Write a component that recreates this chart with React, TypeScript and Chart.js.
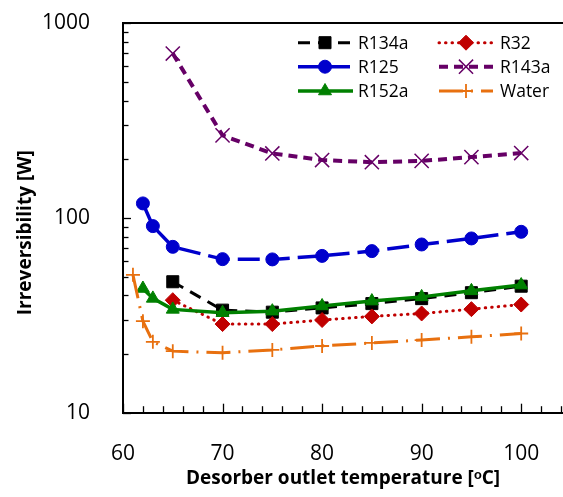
import React, { useEffect, useRef } from 'react';
import { Chart, registerables } from 'chart.js';
import { drawPoint } from 'chart.js/helpers';

Chart.register(...registerables);

// ---- data ----
const tWater = [61, 62, 63, 65, 70, 75, 80, 85, 90, 95, 100];
const water = [51, 29.5, 23.1, 20.7, 20.3, 21.0, 22.0, 22.8, 23.6, 24.5, 25.5];
const tR125 = [62, 63, 65, 70, 75, 80, 85, 90, 95, 100];
const r125 = [118.6, 90.7, 71.0, 61.4, 61.2, 63.8, 67.5, 73.0, 78.4, 84.8];
const tR152a = [62, 63, 65, 70, 75, 80, 85, 90, 95, 100];
const r152a = [43.4, 38.6, 33.9, 32.6, 33.2, 35.3, 37.4, 39.3, 42.2, 45.2];
const t65 = [65, 70, 75, 80, 85, 90, 95, 100];
const r134a = [47.0, 33.6, 32.8, 34.5, 36.3, 38.5, 41.3, 44.6];
const r32 = [37.8, 28.5, 28.5, 29.9, 31.2, 32.3, 34.0, 35.9];
const r143a = [697, 265, 214, 198, 193, 196, 205, 215];

const xTickValues = [60, 62, 64, 66, 68, 70, 72, 74, 76, 78, 80, 82, 84, 86, 88, 90, 92, 94, 96, 98, 100, 102, 104];
const yMajorTicks = [10, 100, 1000];
const yMinorTicks = [20, 30, 40, 50, 60, 70, 80, 90, 200, 300, 400, 500, 600, 700, 800, 900];

const xTitle = 'Desorber outlet temperature [\u1D52C]';
const yTitle = 'Irreversibility [W]      ';

const FONT = '"Open Sans", sans-serif';

export default function App() {
  const ref = useRef<HTMLCanvasElement>(null);

  useEffect(() => {
    document.body.style.margin = '0';
    const canvas = ref.current;
    if (!canvas) return;

    const pts = (xs: number[], ys: number[]) => xs.map((x, i) => ({ x, y: ys[i] }));

    const series = [
      { label: 'R134a', data: pts(t65, r134a), color: '#000000', dash: [12, 8], width: 3, style: 'rect', radius: 8.5, pbw: 1, cap: 'butt', order: 6, col: 0, row: 0 },
      { label: 'R125', data: pts(tR125, r125), color: '#0000CC', dash: [22, 8], width: 3.5, style: 'circle', radius: 6.5, pbw: 1, cap: 'butt', order: 4, col: 0, row: 1 },
      { label: 'R152a', data: pts(tR152a, r152a), color: '#008000', dash: [], width: 3.5, style: 'triangle', radius: 7.5, pbw: 1, cap: 'butt', order: 2, col: 0, row: 2 },
      { label: 'R32', data: pts(t65, r32), color: '#C00000', dash: [0.5, 6], width: 3, style: 'rectRot', radius: 7.5, pbw: 1, cap: 'round', order: 5, col: 1, row: 0 },
      { label: 'R143a', data: pts(t65, r143a), color: '#660066', dash: [9, 6], width: 4, style: 'crossRot', radius: 10, pbw: 1.5, cap: 'butt', order: 3, col: 1, row: 1 },
      { label: 'Water', data: pts(tWater, water), color: '#E8700F', dash: [24, 8, 2, 8], width: 3, style: 'cross', radius: 7, pbw: 1.8, cap: 'butt', order: 1, col: 1, row: 2 },
    ];

    const datasets = series.map((s) => ({
      label: s.label,
      data: s.data,
      borderColor: s.color,
      backgroundColor: s.color,
      borderWidth: s.width,
      borderDash: s.dash,
      borderCapStyle: s.cap as CanvasLineCap,
      pointStyle: s.style as any,
      pointRadius: s.radius,
      pointBorderWidth: s.pbw,
      pointBackgroundColor: s.color,
      pointBorderColor: s.color,
      tension: 0,
      fill: false,
      order: s.order,
    }));

    const inwardTicks = {
      id: 'inwardTicks',
      afterDraw(chart: any) {
        const { ctx, chartArea: a, scales } = chart;
        const x = scales.x;
        const y = scales.y;
        ctx.save();
        ctx.setLineDash([]);
        ctx.strokeStyle = '#000';
        ctx.lineWidth = 1.3;
        for (const v of xTickValues) {
          const px = Math.round(x.getPixelForValue(v)) + 0.5;
          const len = v % 10 === 0 ? 9 : 6.5;
          ctx.beginPath();
          ctx.moveTo(px, a.bottom);
          ctx.lineTo(px, a.bottom - len);
          ctx.stroke();
        }
        for (const v of yMajorTicks) {
          const py = Math.round(y.getPixelForValue(v)) + 0.5;
          ctx.beginPath();
          ctx.moveTo(a.left, py);
          ctx.lineTo(a.left + 8, py);
          ctx.stroke();
        }
        for (const v of yMinorTicks) {
          const py = Math.round(y.getPixelForValue(v)) + 0.5;
          ctx.beginPath();
          ctx.moveTo(a.left, py);
          ctx.lineTo(a.left + 5.5, py);
          ctx.stroke();
        }
        // top frame line
        ctx.lineWidth = 2;
        ctx.beginPath();
        ctx.moveTo(a.left, a.top);
        ctx.lineTo(chart.width, a.top);
        ctx.stroke();
        ctx.restore();
      },
    };

    const customLegend = {
      id: 'customLegend',
      afterDraw(chart: any) {
        const { ctx } = chart;
        const cols = [
          { x0: 298, x1: 353, mx: 325, tx: 358 },
          { x0: 439, x1: 493, mx: 466, tx: 500 },
        ];
        const rows = [42.7, 66.7, 91];
        ctx.save();
        series.forEach((s) => {
          const c = cols[s.col];
          const yy = rows[s.row];
          ctx.strokeStyle = s.color;
          ctx.fillStyle = s.color;
          ctx.lineWidth = s.width;
          ctx.lineCap = s.cap as CanvasLineCap;
          ctx.setLineDash(s.dash);
          ctx.beginPath();
          ctx.moveTo(c.x0, yy);
          ctx.lineTo(c.x1, yy);
          ctx.stroke();
          ctx.setLineDash([]);
          ctx.lineCap = 'butt';
          ctx.lineWidth = s.pbw;
          drawPoint(ctx, { pointStyle: s.style as any, rotation: 0, radius: s.radius, borderWidth: s.pbw }, c.mx, yy);
          ctx.fillStyle = '#000';
          ctx.font = `17.5px ${FONT}`;
          ctx.textAlign = 'left';
          ctx.textBaseline = 'middle';
          ctx.fillText(s.label, c.tx, yy + 1);
        });
        ctx.restore();
      },
    };

    const chart = new Chart(canvas, {
      type: 'line',
      data: { datasets: datasets as any },
      plugins: [inwardTicks, customLegend],
      options: {
        responsive: false,
        animation: false,
        layout: { autoPadding: false, padding: { top: 23, left: 0, right: 0, bottom: 0 } },
        plugins: {
          legend: { display: false },
          tooltip: { enabled: false },
        },
        scales: {
          x: {
            type: 'linear',
            min: 60,
            max: 104.2,
            afterBuildTicks: (scale: any) => {
              scale.ticks = xTickValues.map((v) => ({ value: v }));
            },
            afterFit: (scale: any) => {
              scale.height = 84.3;
              scale.paddingLeft = 0;
              scale.paddingRight = 0;
            },
            grid: { display: false },
            border: { display: true, color: '#000', width: 2 },
            ticks: {
              autoSkip: false,
              maxRotation: 0,
              padding: 21,
              color: '#000',
              font: { family: FONT, size: 21 },
              callback: (v: any) => (Number(v) % 10 === 0 ? String(v) : ''),
            },
            title: {
              display: true,
              text: xTitle,
              color: '#000',
              font: { family: FONT, size: 19, weight: 'bold' },
              padding: { top: 0, bottom: 6.6 },
            },
          },
          y: {
            type: 'logarithmic',
            min: 10,
            max: 1000,
            afterBuildTicks: (scale: any) => {
              scale.ticks = yMajorTicks.map((v) => ({ value: v }));
            },
            afterFit: (scale: any) => {
              scale.width = 123;
              scale.paddingTop = 0;
              scale.paddingBottom = 0;
            },
            grid: { display: false },
            border: { display: true, color: '#000', width: 2 },
            ticks: {
              autoSkip: false,
              padding: 25,
              color: '#000',
              font: { family: FONT, size: 21 },
              callback: (v: any) => String(v),
            },
            title: {
              display: true,
              text: yTitle,
              color: '#000',
              font: { family: FONT, size: 19, weight: 'bold' },
              padding: { top: 14, bottom: 0 },
            },
          },
        },
      },
    });

    return () => chart.destroy();
  }, []);

  return (
    <div style={{ position: 'absolute', left: 0, top: 0, width: 563, height: 497, overflow: 'hidden', background: '#fff' }}>
      <canvas ref={ref} width={563} height={497} />
    </div>
  );
}
